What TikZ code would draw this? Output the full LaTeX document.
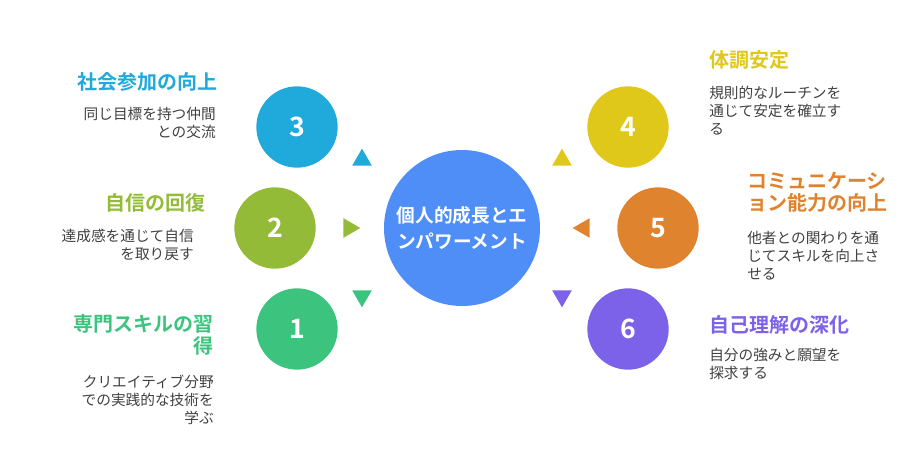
\documentclass[tikz,border=0pt]{standalone}
\usepackage{fontspec}
\setmainfont{Noto Sans CJK JP}[BoldFont={Noto Sans CJK JP Bold}]
\begin{document}
\begin{tikzpicture}[x=0.75pt,y=-0.75pt,
 circ/.style={circle,inner sep=0pt,font=\bfseries\fontsize{20}{22}\selectfont,text=white},
 ttl/.style={font=\bfseries\fontsize{15}{16.5}\selectfont,inner sep=0pt},
 dsc/.style={font=\fontsize{11}{13.5}\selectfont,text=black!75,inner sep=0pt},
 tri/.style={regular polygon,regular polygon sides=3,inner sep=0pt,minimum size=17pt}]
\usetikzlibrary{shapes.geometric}
\definecolor{cA}{HTML}{20A9DB}\definecolor{cB}{HTML}{93BB37}\definecolor{cC}{HTML}{3CC47F}
\definecolor{cD}{HTML}{E0C81A}\definecolor{cE}{HTML}{E0832E}\definecolor{cF}{HTML}{7C62E8}
\definecolor{cM}{HTML}{4F8EF7}
\useasboundingbox (0,0) rectangle (924,456);
\node[circle,fill=cM,minimum size=117pt,inner sep=0pt,text=white,font=\bfseries\fontsize{14}{19}\selectfont,align=center] (m) at (462,228) {個人的成長とエ\\ンパワーメント};
\node[circ,fill=cA,minimum size=61pt] (n3) at (297,127) {3};
\node[circ,fill=cB,minimum size=61pt] (n2) at (275,228) {2};
\node[circ,fill=cC,minimum size=61pt] (n1) at (297,329) {1};
\node[circ,fill=cD,minimum size=61pt] (n4) at (628,127) {4};
\node[circ,fill=cE,minimum size=61pt] (n5) at (658,228) {5};
\node[circ,fill=cF,minimum size=61pt] (n6) at (628,329) {6};
\node[tri,fill=cA] (t3) at (362,160) {};
\node[tri,fill=cB,shape border rotate=-90] (t2) at (349,228) {};
\node[tri,fill=cC,shape border rotate=180] (t1) at (362,296) {};
\node[tri,fill=cD] (t4) at (562,160) {};
\node[tri,fill=cE,shape border rotate=90] (t5) at (584,228) {};
\node[tri,fill=cF,shape border rotate=180] (t6) at (562,296) {};
% left texts
\node[ttl,text=cA,anchor=east] (l3) at (218,82) {社会参加の向上};
\node[dsc,anchor=north east,align=right] (d3) at (216,107) {同じ目標を持つ仲間\\との交流};
\node[ttl,text=cB,anchor=east] (l2) at (206,203) {自信の回復};
\node[dsc,anchor=north east,align=right] (d2) at (194,229) {達成感を通じて自信\\を取り戻す};
\node[ttl,text=cC,anchor=north east,align=right] (l1) at (214,314) {専門スキルの習\\得};
\node[dsc,anchor=north east,align=right] (d1) at (214,375) {クリエイティブ分野\\での実践的な技術を\\学ぶ};
% right texts
\node[ttl,text=cD,anchor=west] (l4) at (709,60) {体調安定};
\node[dsc,anchor=north west,align=left] (d4) at (709,86) {規則的なルーチンを\\通じて安定を確立す\\る};
\node[ttl,text=cE,anchor=north west,align=left] (l5) at (747,172) {コミュニケーシ\\ョン能力の向上};
\node[dsc,anchor=north west,align=left] (d5) at (747,231) {他者との関わりを通\\じてスキルを向上さ\\せる};
\node[ttl,text=cF,anchor=west] (l6) at (709,325) {自己理解の深化};
\node[dsc,anchor=north west,align=left] (d6) at (709,348) {自分の強みと願望を\\探求する};
\end{tikzpicture}
\end{document}
